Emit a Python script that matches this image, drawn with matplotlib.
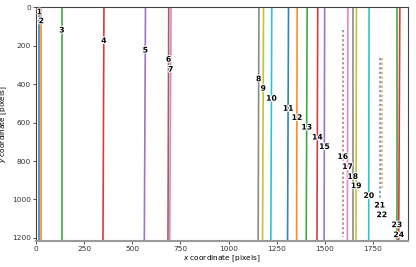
import matplotlib
matplotlib.use("Agg")
import matplotlib.pyplot as plt
import matplotlib.patheffects as pe

# particle ids
ids = list(range(1, 25))
# x position of each trajectory at top (y=0) and bottom (y=1210)
x_top = [16, 26, 133, 352, 568, 689, 701, 1158, 1182, 1225, 1312, 1357, 1409,
         1464, 1500, 1594, 1621, 1646, 1665, 1731, 1786, 1797, 1875, 1891]
x_bot = [16, 26, 133, 347, 562, 685, 694, 1154, 1177, 1220, 1307, 1354, 1404,
         1460, 1497, 1594, 1618, 1646, 1663, 1729, 1786, 1797, 1875, 1885]
# y extent of each trajectory
y_start = [0, 0, 0, 0, 0, 0, 0, 0, 0, 0, 0, 0, 0,
           0, 0, 118, 0, 0, 0, 0, 265, 265, 0, 0]
y_end = [1210, 1210, 1210, 1210, 1210, 1210, 1210, 1210, 1210, 1210, 1210, 1210, 1210,
         1210, 1210, 1197, 1210, 1210, 1210, 1210, 990, 940, 1210, 1210]
dotted = [False] * 15 + [True] + [False] * 4 + [True, True] + [False, False]
# label y positions
label_y = [23, 70, 118, 173, 222, 270, 322, 372, 421, 473, 525, 573, 623,
           675, 724, 776, 828, 880, 928, 979, 1029, 1079, 1131, 1183]

xticks = [0, 250, 500, 750, 1000, 1250, 1500, 1750]
yticks = [0, 200, 400, 600, 800, 1000, 1200]

fig = plt.figure(figsize=(4.16, 2.67), dpi=100)
ax = fig.add_axes([0.0858, 0.0974, 0.8957, 0.8753])

colors = plt.rcParams['axes.prop_cycle'].by_key()['color']

for i, pid in enumerate(ids):
    c = colors[i % len(colors)]
    def xat(y):
        return x_top[i] + (x_bot[i] - x_top[i]) * y / 1210.0
    xs = [xat(y_start[i]), xat(y_end[i])]
    ys = [y_start[i], y_end[i]]
    if dotted[i]:
        ax.plot(xs, ys, color=c, lw=1.1, ls=(0, (1.5, 1.5)), alpha=0.8)
    else:
        ax.plot(xs, ys, color=c, lw=1.2, alpha=0.9)
    ax.text(xat(label_y[i]), label_y[i], str(pid), fontsize=5.5, fontweight='bold',
            ha='center', va='center', color='black',
            path_effects=[pe.withStroke(linewidth=1.5, foreground='white')])

ax.set_xlim(-3, 1935)
ax.set_ylim(1216, 0)
ax.set_xticks(xticks)
ax.set_yticks(yticks)
ax.tick_params(labelsize=5.3, length=2, width=0.6, pad=1.5, colors='#333333')
ax.set_xlabel('$x$ coordinate [pixels]', fontsize=5.3, labelpad=1)
ax.set_ylabel('$y$ coordinate [pixels]', fontsize=5.3, labelpad=2)
for s in ['top', 'left', 'right']:
    ax.spines[s].set_color('#444444')
    ax.spines[s].set_linewidth(0.8)
ax.spines['bottom'].set_color('#999999')
ax.spines['bottom'].set_linewidth(1.5)

fig.savefig('out.png', dpi=100)
